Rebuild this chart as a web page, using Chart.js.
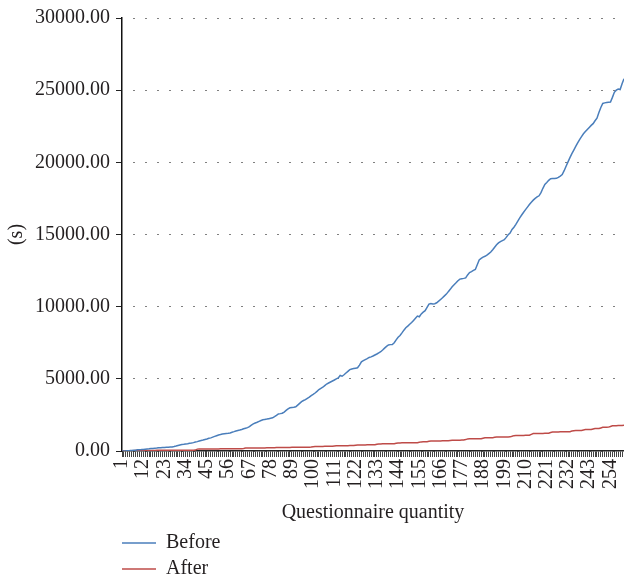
<!DOCTYPE html>
<html lang="en">
<head>
    <meta charset="UTF-8">
    <title>Before / After</title>
    <script src="https://cdn.jsdelivr.net/npm/chart.js"></script>
    <style>
        body {
            margin: 0;
            background: #fff;
        }

        #wrap {
            position: relative;
            width: 624px;
            height: 575px;
        }
    </style>
</head>
<body>
    <div id="wrap">
        <canvas id="timeChart"></canvas>
    </div>

    <script>
        // questionnaire index 1..261
        const categories = [];
        for (let i = 1; i <= 261; i++) categories.push(String(i));

        const shownLabels = ['1', '12', '23', '34', '45', '56', '67', '78', '89', '100', '111', '122',
            '133', '144', '155', '166', '177', '188', '199', '210', '221', '232', '243', '254'];

        const yTicks = [0, 5000, 10000, 15000, 20000, 25000, 30000];

        const seriesNames = ['Before', 'After'];

        const before = [
            0, 8, 15, 25, 30, 40, 50, 60, 80, 95,
            100, 110, 125, 140, 150, 165, 170, 185, 200, 220,
            230, 240, 245, 255, 265, 275, 285, 310, 340, 380,
            420, 445, 460, 480, 500, 530, 550, 580, 620, 650,
            690, 730, 760, 800, 830, 880, 910, 960, 1010, 1060,
            1110, 1140, 1180, 1200, 1220, 1230, 1250, 1300, 1340, 1390,
            1420, 1450, 1490, 1540, 1580, 1620, 1690, 1790, 1880, 1940,
            1990, 2050, 2110, 2160, 2190, 2210, 2240, 2270, 2300, 2380,
            2470, 2570, 2590, 2620, 2700, 2810, 2920, 2990, 3010, 3030,
            3060, 3180, 3300, 3420, 3500, 3560, 3650, 3730, 3840, 3920,
            4020, 4130, 4260, 4340, 4420, 4530, 4640, 4710, 4780, 4850,
            4920, 5000, 5060, 5230, 5180, 5280, 5400, 5520, 5640, 5680,
            5710, 5740, 5770, 5950, 6180, 6260, 6330, 6400, 6480, 6520,
            6580, 6650, 6720, 6800, 6880, 7000, 7130, 7250, 7350, 7370,
            7380, 7500, 7700, 7880, 8000, 8180, 8370, 8540, 8650, 8780,
            8900, 9050, 9200, 9350, 9300, 9500, 9620, 9720, 9950, 10180,
            10220, 10190, 10200, 10270, 10380, 10500, 10620, 10750, 10870, 11040,
            11200, 11380, 11520, 11650, 11800, 11910, 11940, 11960, 11990, 12200,
            12360, 12430, 12510, 12580, 12900, 13240, 13350, 13430, 13490, 13570,
            13680, 13790, 13950, 14120, 14290, 14420, 14510, 14580, 14640, 14800,
            14980, 15100, 15350, 15500, 15700, 15930, 16150, 16350, 16540, 16720,
            16900, 17080, 17240, 17380, 17500, 17600, 17680, 17900, 18200, 18470,
            18600, 18750, 18870, 18880, 18880, 18890, 18960, 19050, 19150, 19420,
            19730, 20030, 20330, 20600, 20850, 21100, 21350, 21580, 21780, 21980,
            22130, 22280, 22420, 22560, 22680, 22880, 23060, 23450, 23800, 24080,
            24120, 24140, 24160, 24180, 24500, 24850, 25000, 25080, 25040, 25450,
            25790
        ];

        const after = [
            10, 12, 15, 18, 20, 22, 25, 28, 30, 32,
            34, 35, 37, 38, 40, 41, 42, 43, 44, 45,
            46, 47, 48, 48, 49, 50, 50, 51, 52, 52,
            53, 54, 55, 55, 56, 57, 58, 60, 62, 130,
            135, 137, 138, 140, 141, 142, 143, 144, 145, 146,
            147, 148, 149, 150, 151, 152, 153, 154, 155, 156,
            157, 158, 160, 170, 200, 205, 207, 208, 210, 211,
            212, 213, 214, 215, 216, 217, 218, 219, 220, 225,
            240, 245, 246, 247, 248, 249, 250, 251, 252, 253,
            254, 255, 256, 257, 258, 259, 260, 262, 270, 300,
            312, 314, 316, 318, 320, 321, 322, 323, 324, 326,
            345, 362, 364, 366, 368, 370, 371, 372, 373, 374,
            375, 400, 415, 418, 420, 422, 424, 426, 428, 430,
            432, 434, 470, 490, 492, 494, 496, 498, 500, 502,
            504, 506, 540, 560, 562, 564, 566, 568, 570, 572,
            574, 576, 578, 580, 610, 632, 636, 640, 644, 670,
            690, 692, 694, 696, 698, 700, 702, 704, 706, 708,
            730, 745, 747, 749, 751, 753, 755, 757, 790, 840,
            842, 844, 846, 848, 850, 852, 855, 890, 912, 915,
            918, 920, 922, 945, 965, 967, 969, 971, 973, 975,
            977, 979, 1020, 1065, 1068, 1071, 1074, 1077, 1080, 1083,
            1086, 1089, 1150, 1205, 1208, 1211, 1214, 1217, 1220, 1223,
            1226, 1229, 1280, 1315, 1318, 1321, 1324, 1327, 1330, 1333,
            1336, 1339, 1342, 1380, 1410, 1413, 1416, 1419, 1422, 1460,
            1482, 1486, 1490, 1494, 1530, 1552, 1556, 1560, 1600, 1642,
            1646, 1650, 1654, 1700, 1745, 1750, 1755, 1760, 1765, 1770,
            1780
        ];

        const serif = 'Liberation Serif';
        const textColor = '#231f20';

        // legend drawn as a vertical list under the axis title
        const stackedLegend = {
            id: 'stackedLegend',
            afterDraw(chart) {
                const ctx = chart.ctx;
                ctx.save();
                ctx.font = '20px "' + serif + '"';
                ctx.textBaseline = 'middle';
                chart.data.datasets.forEach((ds, i) => {
                    const y = 543 + i * 26;
                    ctx.strokeStyle = ds.borderColor;
                    ctx.lineWidth = 1.5;
                    ctx.beginPath();
                    ctx.moveTo(122, y);
                    ctx.lineTo(156, y);
                    ctx.stroke();
                    ctx.fillStyle = textColor;
                    ctx.fillText(ds.label, 166, y);
                });
                ctx.restore();
            }
        };

        const timeChart = new Chart(document.getElementById('timeChart').getContext('2d'), {
            type: 'line',
            data: {
                labels: categories,
                datasets: [{
                    label: seriesNames[0],
                    data: before,
                    borderColor: '#4a7ebb',
                    borderWidth: 1.5,
                    pointRadius: 0,
                    tension: 0,
                }, {
                    label: seriesNames[1],
                    data: after,
                    borderColor: '#be4b48',
                    borderWidth: 1.5,
                    pointRadius: 0,
                    tension: 0,
                }],
            },
            options: {
                responsive: true,
                maintainAspectRatio: false,
                animation: false,
                layout: {
                    padding: { top: 18, right: 0, bottom: 50, left: 5 },
                },
                plugins: {
                    legend: { display: false },
                    tooltip: { enabled: false },
                },
                scales: {
                    x: {
                        offset: false,
                        afterFit: s => { s.paddingRight = 0; },
                        grid: {
                            drawOnChartArea: false,
                            drawTicks: true,
                            tickLength: 6,
                            tickColor: '#444',
                        },
                        border: { color: '#222', width: 1.5 },
                        ticks: {
                            autoSkip: false,
                            minRotation: 90,
                            maxRotation: 90,
                            padding: 2,
                            color: textColor,
                            font: { family: serif, size: 20 },
                            callback: (v, i) => shownLabels.includes(categories[i]) ? categories[i] : '',
                        },
                        title: {
                            display: true,
                            text: 'Questionnaire quantity',
                            color: textColor,
                            font: { family: serif, size: 20 },
                            padding: { top: 10, bottom: 0 },
                        },
                    },
                    y: {
                        min: 0,
                        max: 30000,
                        afterBuildTicks: s => { s.ticks = yTicks.map(v => ({ value: v })); },
                        grid: {
                            color: '#000',
                            lineWidth: 1,
                            tickLength: 6,
                            tickColor: '#222',
                            tickBorderDash: [],
                        },
                        border: { color: '#111', width: 1.5, dash: [1, 11], dashOffset: 1 },
                        ticks: {
                            padding: 6,
                            color: textColor,
                            font: { family: serif, size: 20 },
                            callback: v => v.toFixed(2),
                        },
                        title: {
                            display: true,
                            text: '(s)',
                            color: textColor,
                            font: { family: serif, size: 20 },
                            padding: { top: 0, bottom: 0 },
                        },
                    },
                },
            },
            plugins: [stackedLegend],
        });
    </script>
</body>
</html>
